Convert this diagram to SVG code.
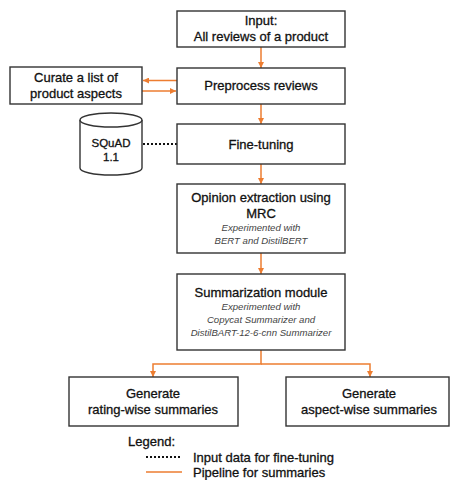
<svg xmlns="http://www.w3.org/2000/svg" width="450" height="480" viewBox="0 0 450 480">
<style>
.box{fill:#fff;stroke:#333;stroke-width:1.4}
.t{font-family:"Liberation Sans",Arial,sans-serif;font-size:13px;fill:#111;stroke:#111;stroke-width:0.3;text-anchor:middle}
.s{font-size:11.5px}
.i{font-family:"Liberation Sans",Arial,sans-serif;font-size:9.6px;font-style:italic;fill:#444;text-anchor:middle}
.lg{font-family:"Liberation Sans",Arial,sans-serif;font-size:13px;fill:#111;stroke:#111;stroke-width:0.3}
.o{stroke:#ED7D31;stroke-width:1.5;fill:none}
.d{stroke:#111;stroke-width:2;stroke-dasharray:2 2;fill:none}
</style>
<defs>
<marker id="ah" viewBox="0 0 10 10" refX="10" refY="5" markerWidth="6" markerHeight="6" markerUnits="userSpaceOnUse" orient="auto">
<path d="M0,0 L10,5 L0,10 z" fill="#ED7D31"/>
</marker>
</defs>
<g id="connectors">
<line class="o" x1="261" y1="47" x2="261" y2="68" marker-end="url(#ah)"/>
<line class="o" x1="177" y1="80.5" x2="143" y2="80.5" marker-end="url(#ah)"/>
<line class="o" x1="142" y1="91" x2="176" y2="91" marker-end="url(#ah)"/>
<line class="o" x1="261" y1="104" x2="261" y2="124" marker-end="url(#ah)"/>
<line class="d" x1="143" y1="144" x2="177" y2="144"/>
<line class="o" x1="261" y1="164" x2="261" y2="184" marker-end="url(#ah)"/>
<line class="o" x1="261" y1="253" x2="261" y2="274" marker-end="url(#ah)"/>
<polyline class="o" points="261,350 261,364 153,364 153,377" marker-end="url(#ah)"/>
<polyline class="o" points="261,364 370,364 370,377" marker-end="url(#ah)"/>
</g>
<g id="input">
<rect class="box" x="177" y="11" width="168" height="36"/>
<text class="t" x="261" y="25">Input:</text>
<text class="t" x="261" y="41">All reviews of a product</text>
</g>
<g id="preprocess">
<rect class="box" x="177" y="68" width="168" height="36"/>
<text class="t" x="261" y="90">Preprocess reviews</text>
</g>
<g id="curate">
<rect class="box" x="10" y="67" width="132" height="37"/>
<text class="t" x="76" y="82">Curate a list of</text>
<text class="t" x="76" y="98">product aspects</text>
</g>
<g id="squad">
<path d="M80,120 L80,168 A31,7 0 0 0 142,168 L142,120" fill="#fff" stroke="#333" stroke-width="1.4"/>
<ellipse cx="111" cy="120" rx="31" ry="7" fill="#fff" stroke="#333" stroke-width="1.4"/>
<text class="t s" x="111" y="147">SQuAD</text>
<text class="t s" x="111" y="161">1.1</text>
</g>
<g id="finetuning">
<rect class="box" x="177" y="124" width="168" height="40"/>
<text class="t" x="261" y="149">Fine-tuning</text>
</g>
<g id="opinion">
<rect class="box" x="177" y="184" width="168" height="69"/>
<text class="t" x="261" y="202">Opinion extraction using</text>
<text class="t" x="261" y="218">MRC</text>
<text class="i" x="261" y="231">Experimented with</text>
<text class="i" x="261" y="244">BERT and DistilBERT</text>
</g>
<g id="summarization">
<rect class="box" x="177" y="274" width="168" height="76"/>
<text class="t" x="261" y="297">Summarization module</text>
<text class="i" x="261" y="310">Experimented with</text>
<text class="i" x="261" y="323">Copycat Summarizer and</text>
<text class="i" x="261" y="336">DistilBART-12-6-cnn Summarizer</text>
</g>
<g id="rating">
<rect class="box" x="69" y="377" width="169" height="49"/>
<text class="t" x="153" y="398">Generate</text>
<text class="t" x="153" y="414">rating-wise summaries</text>
</g>
<g id="aspect">
<rect class="box" x="286" y="377" width="163" height="49"/>
<text class="t" x="369" y="398">Generate</text>
<text class="t" x="369" y="414">aspect-wise summaries</text>
</g>
<g id="legend">
<text class="lg" x="128" y="446">Legend:</text>
<line class="d" x1="146" y1="457" x2="181" y2="457"/>
<text class="lg" x="193" y="462">Input data for fine-tuning</text>
<line class="o" x1="146" y1="472" x2="182" y2="472"/>
<text class="lg" x="193" y="477">Pipeline for summaries</text>
</g>
</svg>
